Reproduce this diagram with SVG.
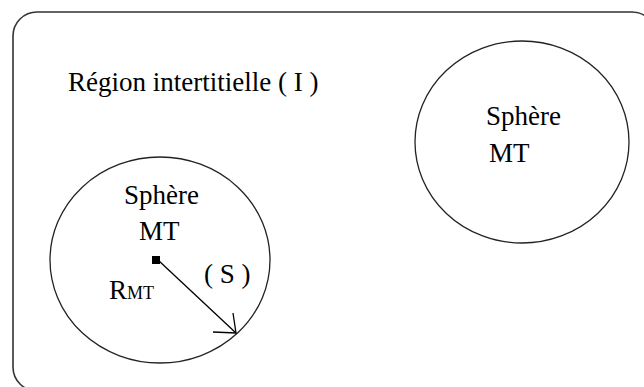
<svg xmlns="http://www.w3.org/2000/svg" width="644" height="387" viewBox="0 0 644 387">
<style>
.t{font-family:"Liberation Serif","Times New Roman",serif;font-size:27px;fill:#000}
.s{font-size:18px}
.sh{fill:none;stroke:#222;stroke-width:1.3}
.ln{fill:none;stroke:#000;stroke-width:1.3}
</style>
<rect width="644" height="387" fill="#fff"/>
<g id="region">
<rect x="13" y="12" width="643" height="379" rx="24" ry="24" fill="none" stroke="#333" stroke-width="1.6"/>
<text class="t" x="68" y="91">Région intertitielle ( I )</text>
</g>
<g id="sphere-right">
<ellipse class="sh" cx="522" cy="142" rx="107" ry="101"/>
<text class="t" x="486" y="125">Sphère</text>
<text class="t" x="489" y="162">MT</text>
</g>
<g id="sphere-left">
<ellipse class="sh" cx="160" cy="260" rx="110" ry="103"/>
<text class="t" x="124" y="204">Sphère</text>
<text class="t" x="139" y="240">MT</text>
<rect x="152" y="256" width="8" height="8" fill="#000"/>
<text class="t" x="109" y="299">R<tspan class="s">MT</tspan></text>
<text class="t" x="204" y="283">( S )</text>
</g>
<g id="connectors">
<line class="ln" x1="158" y1="260" x2="236" y2="333"/>
<path class="ln" d="M213,332 L236,333 L233,313"/>
</g>
</svg>
